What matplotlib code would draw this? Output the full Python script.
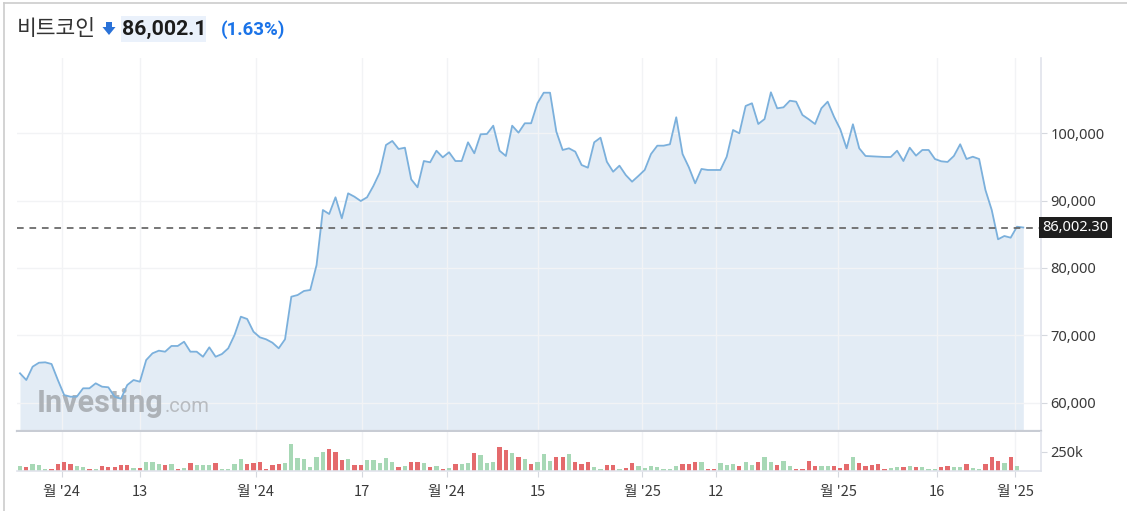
import numpy as np
import matplotlib
matplotlib.use("Agg")
import matplotlib.pyplot as plt
from matplotlib.patches import Polygon, Rectangle
from matplotlib.lines import Line2D
import matplotlib.transforms as mtransforms

# ---------------- data ----------------
price = [64340, 63340, 65320, 65910, 65970, 65720, 63340, 61110, 60860, 60860,
         62110, 62110, 62850, 62350, 62260, 60860, 60560, 62600, 63340, 63090,
         66310, 67310, 67700, 67550, 68400, 68400, 69030, 67550, 67550, 66800,
         68200, 66800, 67200, 68050, 70030, 72750, 72410, 70520, 69690, 69390,
         68890, 68050, 69390, 75720, 75970, 76570, 76720, 80430, 88600, 88010,
         90490, 87370, 91080, 90580, 89940, 90490, 92170, 94150, 98260, 98860,
         97670, 97860, 93160, 91980, 95880, 95690, 97410, 96430, 97180, 95880,
         95880, 98660, 97030, 99850, 99900, 101130, 97410, 96630, 101130, 100090,
         101490, 101490, 104460, 106030, 106030, 100240, 97520, 97770, 97270, 95290,
         94890, 98660, 99350, 95780, 94290, 95190, 93800, 92810, 93660, 94550,
         96920, 98160, 98160, 98370, 102380, 96920, 94950, 92570, 94700, 94550,
         94550, 94550, 96520, 100490, 100000, 104060, 104460, 101380, 102120, 106090,
         103710, 103860, 104840, 104700, 102720, 102080, 101380, 103710, 104700, 102470,
         100590, 97770, 101340, 97770, 96630, 96580, 96520, 96480, 96480, 97410,
         95880, 97860, 96680, 97520, 97520, 96180, 95840, 95740, 96630, 98370,
         96180, 96520, 96180, 91580, 88600, 84250, 84740, 84490, 86120, 86002.3]

volume_k = [69, 56, 91, 73, 26, 26, 86, 121, 91, 65, 56, 26, 26, 69, 56, 56, 73, 73, 43, 39,
            121, 121, 91, 73, 91, 30, 43, 104, 73, 73, 73, 104, 30, 26, 91, 151, 91, 104, 121, 26,
            73, 91, 104, 350, 164, 151, 56, 181, 246, 285, 246, 138, 151, 73, 73, 138, 138, 104, 168, 121,
            56, 69, 121, 121, 99, 56, 69, 26, 35, 91, 91, 108, 229, 207, 108, 121, 315, 272, 229, 186,
            156, 91, 121, 220, 134, 186, 186, 220, 121, 91, 121, 56, 26, 78, 78, 26, 35, 99, 69, 35,
            69, 56, 22, 22, 69, 91, 91, 121, 121, 26, 26, 108, 78, 91, 69, 121, 78, 121, 186, 121,
            72, 134, 69, 22, 22, 134, 69, 69, 69, 69, 35, 91, 186, 99, 69, 78, 91, 22, 35, 56,
            56, 69, 56, 56, 22, 22, 56, 69, 56, 56, 91, 35, 22, 91, 186, 134, 108, 186, 69]

vol_dir = list("GRGGGRRRRGGRGRRRRRGRGGGRGRGRGGGRGGGGRRRRRRGGGGGGGRRRGRRGGGGGR"
               "GRRGRGRGRGGRGGGRRGRGRGGGRRGRRRGGRRGRRGGGGGGGRRRGRRGGGRGGRGGR"
               "GGRRRRGGRRRGRRRRRGGRGRGGGRRGGRGGRRRGRG")

xtick_pos = [6.6, 19.0, 37.4, 54.2, 67.6, 82.1, 98.6, 110.3, 129.7, 145.3, 157.7]
xtick_labels = ["월 '24", "13", "월 '24", "17", "월 '24", "15",
                "월 '25", "12", "월 '25", "16", "월 '25"]
ytick_vals = [60000, 70000, 80000, 90000, 100000]
last_price = 86002.30

title_name = "비트코인"
title_price = "86,002.1"
title_change = "(1.63%)"

# ---------------- layout helpers ----------------
W, H = 1127, 511
fig = plt.figure(figsize=(W / 100, H / 100), dpi=100)
fig.patch.set_facecolor("white")


def fx(px):
    return px / W


def fy(py):
    return 1 - py / H


KR = ["Noto Sans CJK KR", "DejaVu Sans"]
NUM = ["Noto Sans", "DejaVu Sans"]
BOLD = ["Roboto", "DejaVu Sans"]

LEFT, RIGHT = 17, 1041
ax = fig.add_axes([fx(LEFT), fy(431), fx(RIGHT) - fx(LEFT), fy(58) - fy(431)])
axv = fig.add_axes([fx(LEFT), fy(471), fx(RIGHT) - fx(LEFT), fy(432) - fy(471)], sharex=ax)

n = len(price)
x = np.arange(n)
xmin = (LEFT - 20) / 6.31
xmax = (RIGHT - 20) / 6.31

y0 = 100000 - (431 - 133.3) / 67.3 * 10000
y1 = 100000 + (133.3 - 58) / 67.3 * 10000

# ---------------- price panel ----------------
ax.set_xlim(xmin, xmax)
ax.set_ylim(y0, y1)
ax.fill_between(x, price, y0, color="#e3ecf5", lw=0, zorder=1)
ax.plot(x, price, color="#7bb0dc", lw=1.3, zorder=3, solid_joinstyle="round")
ax.axhline(last_price, color="#6b6b6b", lw=1.3, ls=(0, (3.7, 3.2)), zorder=4)

ax.set_yticks(ytick_vals)
ax.set_yticklabels([f"{v:,.0f}" for v in ytick_vals])
ax.yaxis.tick_right()
ax.tick_params(axis="y", length=4, color="#d5d8de", labelcolor="#3a3a3a",
               labelsize=10.5, pad=3)
for lab in ax.get_yticklabels():
    lab.set_fontfamily(NUM)
ax.set_xticks(xtick_pos)
ax.tick_params(axis="x", length=0, labelbottom=False)
ax.grid(True, color="#f2f3f5", lw=1, zorder=0)
for s in ["top", "left"]:
    ax.spines[s].set_visible(False)
ax.spines["right"].set_color("#e0e3eb")
ax.spines["right"].set_linewidth(1.2)
ax.spines["bottom"].set_color("#c8ccd4")
ax.spines["bottom"].set_linewidth(1.6)

trans = mtransforms.blended_transform_factory(ax.transAxes, ax.transData)
ax.text(1.0015, last_price, f"{last_price:,.2f}", transform=trans, ha="left", va="center",
        color="white", fontsize=10.5, family=NUM, zorder=6,
        bbox=dict(boxstyle="square,pad=0.22", fc="#1e1e1e", ec="none"))

# watermark
wm_y = 1 - (412 - 58) / (431 - 58)
ax.text((37 - LEFT) / (RIGHT - LEFT), wm_y, "Investing",
        transform=ax.transAxes, fontsize=22, fontweight="bold", family="Roboto",
        color="#a4a8ad", alpha=0.85, ha="left", va="baseline", zorder=2)
ax.text((165 - LEFT) / (RIGHT - LEFT), wm_y, ".com",
        transform=ax.transAxes, fontsize=14.5, family="Roboto",
        color="#b0b3b7", alpha=0.85, ha="left", va="baseline", zorder=2)

# ---------------- volume panel ----------------
vx = np.arange(len(volume_k))
colors = ["#a7d8b5" if d == "G" else "#e46a6c" for d in vol_dir[:len(volume_k)]]
axv.bar(vx, volume_k, width=0.68, color=colors, zorder=2)
axv.set_ylim(0, 505)
axv.set_yticks([250])
axv.set_yticklabels(["250k"])
axv.yaxis.tick_right()
axv.tick_params(axis="y", length=4, color="#d5d8de", labelcolor="#3a3a3a",
                labelsize=10.5, pad=3)
for lab in axv.get_yticklabels():
    lab.set_fontfamily(NUM)
axv.set_xticks(xtick_pos)
axv.set_xticklabels(xtick_labels)
axv.tick_params(axis="x", length=4, color="#d5d8de", labelcolor="#3a3a3a",
                labelsize=10.5, pad=6)
for lab in axv.get_xticklabels():
    lab.set_fontfamily(KR)
axv.grid(True, axis="x", color="#f2f3f5", lw=1, zorder=0)
for s in ["top", "left"]:
    axv.spines[s].set_visible(False)
axv.spines["right"].set_color("#e0e3eb")
axv.spines["right"].set_linewidth(1.2)
axv.spines["bottom"].set_color("#e0e3eb")
axv.spines["bottom"].set_linewidth(1.2)

# ---------------- header ----------------
fig.add_artist(Line2D([fx(4), 1], [fy(3), fy(3)], color="#cccccc", lw=1.2))
fig.add_artist(Line2D([fx(4), fx(4)], [fy(3), 0], color="#cccccc", lw=1.2))

fig.text(fx(17), fy(29), title_name, fontsize=15.5, family=KR, color="#333333",
         ha="left", va="center")
arrow = Polygon([[fx(106), fy(22)], [fx(112), fy(22)], [fx(112), fy(27)], [fx(115.5), fy(27)],
                 [fx(109), fy(35)], [fx(102.5), fy(27)], [fx(106), fy(27)]],
                closed=True, transform=fig.transFigure, fc="#2a72d8", ec="none")
fig.add_artist(arrow)
fig.add_artist(Rectangle((fx(120.5), fy(42.5)), fx(206) - fx(120.5), fy(16) - fy(42.5),
                         transform=fig.transFigure, fc="#eaf1fb", ec="none"))
fig.text(fx(122), fy(29.5), title_price, fontsize=15.3, fontweight="bold", family=BOLD,
         color="#1c1c1c", ha="left", va="center")
fig.text(fx(221), fy(29.5), title_change, fontsize=13.5, fontweight="bold", family=BOLD,
         color="#1a73e8", ha="left", va="center")

fig.savefig("out.png", dpi=100, facecolor="white")
